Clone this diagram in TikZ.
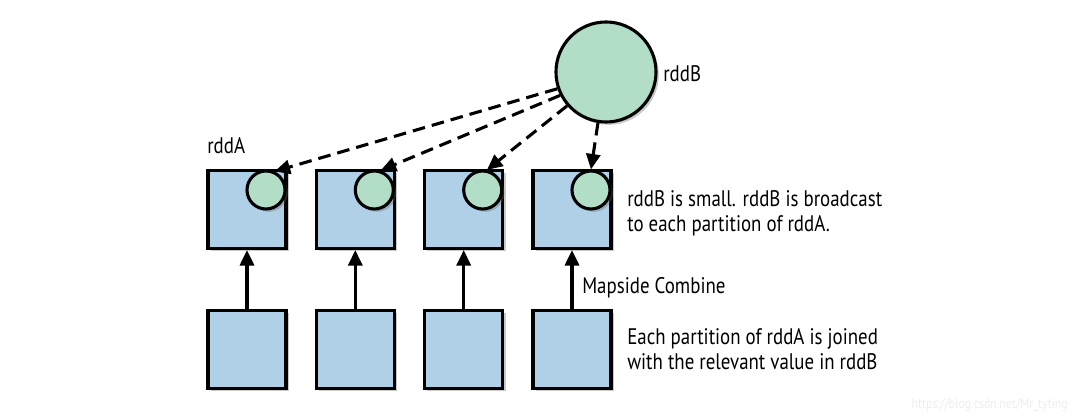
\documentclass[tikz,border=0pt]{standalone}
\usepackage{fontspec}
\setmainfont{PT Sans}[FakeStretch=0.84]
\usetikzlibrary{arrows.meta,shadows}
\definecolor{boxblue}{RGB}{176,208,232}
\definecolor{circgreen}{RGB}{178,222,200}
\begin{document}
\begin{tikzpicture}[x=0.025cm,y=-0.025cm,
  shad/.style={drop shadow={shadow xshift=0.07cm,shadow yshift=-0.07cm,opacity=0.35,fill=black!60}},
  part/.style={draw=black,line width=2.2pt,fill=boxblue,minimum size=1.95cm,inner sep=0pt,shad},
  small/.style={draw=black,line width=2.2pt,fill=circgreen,circle,minimum size=0.95cm,inner sep=0pt,shad},
  big/.style={draw=black,line width=2.2pt,fill=circgreen,circle,minimum size=2.5cm,inner sep=0pt,shad},
  bcast/.style={line width=2.2pt,dash pattern=on 9pt off 5pt,-{Triangle[length=11pt,width=10pt]}},
  flow/.style={line width=2.2pt,-{Triangle[length=11pt,width=10pt]}},
  lbl/.style={inner sep=0pt,font=\fontsize{16}{18}\selectfont,align=left}
]
\useasboundingbox (0,0) rectangle (1080,420);
% top partitions
\node[part] (t1) at (247,209.5) {};
\node[part] (t2) at (355.3,209.5) {};
\node[part] (t3) at (463.7,209.5) {};
\node[part] (t4) at (572,209.5) {};
% bottom partitions
\node[part] (b1) at (247,349.5) {};
\node[part] (b2) at (355.3,349.5) {};
\node[part] (b3) at (463.7,349.5) {};
\node[part] (b4) at (572,349.5) {};
% small broadcast copies
\node[small] (c1) at (266,190) {};
\node[small] (c2) at (374.3,190) {};
\node[small] (c3) at (482.7,190) {};
\node[small] (c4) at (591,190) {};
% big rddB
\node[big] (B) at (606,72) {};
% broadcast arrows
\draw[bcast] (B.199) -- (c1.65);
\draw[bcast] (B.207) -- (c2.72);
\draw[bcast] (B.221) -- (c3.78);
\draw[bcast] (B.261) -- (c4.90);
% map arrows
\draw[flow] (b1.north) -- (t1.south);
\draw[flow] (b2.north) -- (t2.south);
\draw[flow] (b3.north) -- (t3.south);
\draw[flow] (b4.north) -- (t4.south);
% labels
\node[lbl,anchor=base west] (la) at (207,153) {rddA};
\node[lbl,anchor=base west] (lb) at (663,82) {rddB};
\node[lbl,anchor=west] (l1) at (627,213) {rddB is small. rddB is broadcast\\to each partition of rddA.};
\node[lbl,anchor=base west] (l2) at (582,293) {Mapside Combine};
\node[lbl,anchor=west] (l3) at (627,349) {Each partition of rddA is joined\\with the relevant value in rddB};
\node[inner sep=0pt,anchor=base east,text=black!7,font=\fontsize{10}{12}\selectfont] (wm) at (1068,408) {https://blog.csdn.net/Mr\_tyting};
\end{tikzpicture}
\end{document}
